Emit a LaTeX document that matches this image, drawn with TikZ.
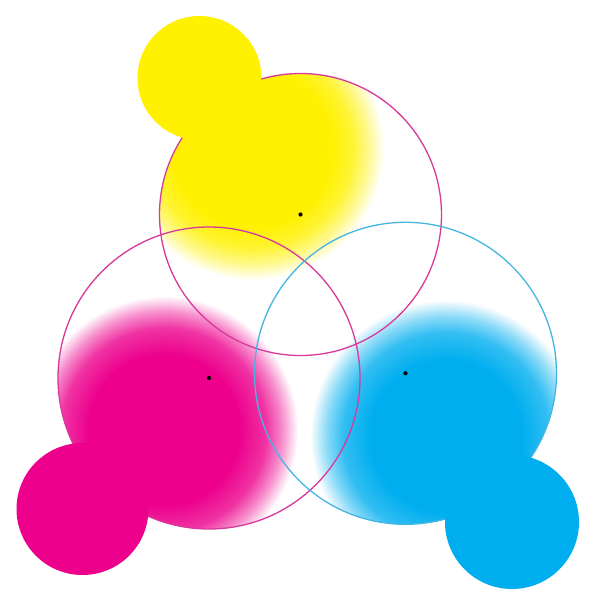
\documentclass[tikz,border=0pt]{standalone}
\definecolor{ycol}{HTML}{FFF100}
\definecolor{mcol}{HTML}{EC008C}
\definecolor{ccol}{HTML}{00AEEF}
\definecolor{mline}{HTML}{D8399B}
\definecolor{cline}{HTML}{45B6E2}
\colorlet{yA}{ycol!80!white}\colorlet{yB}{ycol!45!white}\colorlet{yC}{ycol!15!white}
\colorlet{mA}{mcol!80!white}\colorlet{mB}{mcol!45!white}\colorlet{mC}{mcol!15!white}
\colorlet{cA}{ccol!80!white}\colorlet{cB}{ccol!45!white}\colorlet{cC}{ccol!15!white}
\pgfdeclareradialshading{yblob}{\pgfpointorigin}{color(0bp)=(ycol); color(15bp)=(ycol); color(19bp)=(yA); color(22bp)=(yB); color(24bp)=(yC); color(25bp)=(white); color(50bp)=(white)}
\pgfdeclareradialshading{mblob}{\pgfpointorigin}{color(0bp)=(mcol); color(14bp)=(mcol); color(19bp)=(mA); color(22bp)=(mB); color(24bp)=(mC); color(25bp)=(white); color(50bp)=(white)}
\pgfdeclareradialshading{cblob}{\pgfpointorigin}{color(0bp)=(ccol); color(14bp)=(ccol); color(19bp)=(cA); color(22bp)=(cB); color(24bp)=(cC); color(25bp)=(white); color(50bp)=(white)}
\tikzset{
  outline/.style={line width=1.3pt},
  centre dot/.style={fill=black},
}
\begin{document}
\begin{tikzpicture}[x=1pt,y=-1pt]
\useasboundingbox[fill=white] (0,0) rectangle (600,600);
% centres
\coordinate (T) at (300.5,214.5);
\coordinate (L) at (209,378);
\coordinate (R) at (405.5,373.3);
% gradient blobs
\begin{scope}
  \clip (T) circle (141pt);
  \shade[shading=yblob] (252,148) circle (132pt);
\end{scope}
\begin{scope}
  \clip (L) circle (151pt);
  \shade[shading=mblob] (164,430) circle (134pt);
\end{scope}
\begin{scope}
  \clip (R) circle (151pt);
  \shade[shading=cblob] (446,436) circle (136pt);
\end{scope}
% outlines
\draw[outline, mline] (T) circle (141pt);
\draw[outline, mline] (L) circle (151pt);
\draw[outline, cline] (R) circle (151pt);
% solid discs
\fill[ycol] (199.5,78) circle (62pt);
\fill[mcol] (82.5,509) circle (66pt);
\fill[ccol] (512,522) circle (67pt);
% centre dots
\fill[centre dot] (T) circle (2.1pt);
\fill[centre dot] (L) circle (2.1pt);
\fill[centre dot] (R) circle (2.1pt);
\end{tikzpicture}
\end{document}
